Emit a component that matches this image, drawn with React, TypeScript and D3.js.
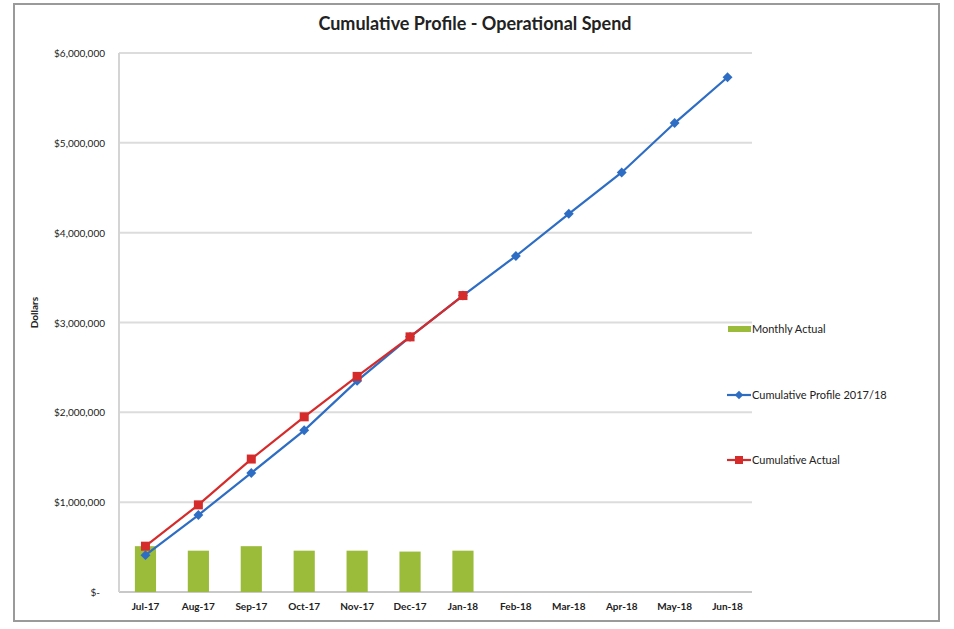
import * as d3 from 'd3';

const months = ['Jul-17', 'Aug-17', 'Sep-17', 'Oct-17', 'Nov-17', 'Dec-17', 'Jan-18', 'Feb-18', 'Mar-18', 'Apr-18', 'May-18', 'Jun-18'];
const monthlyActual = [510000, 460000, 510000, 460000, 460000, 450000, 460000];
const cumulativeProfile = [410000, 857000, 1325000, 1800000, 2350000, 2840000, 3300000, 3740000, 4210000, 4670000, 5220000, 5730000];
const cumulativeActual = [510000, 970000, 1480000, 1950000, 2400000, 2840000, 3300000];
const yTicks = [0, 1000000, 2000000, 3000000, 4000000, 5000000, 6000000];

const W = 954;
const H = 629;
const FONT = 'Lato, "Open Sans", sans-serif';
const GREEN = '#9bbb3b';
const BLUE = '#2e6dc4';
const RED = '#d62b2b';

export default function App() {
  const margin = { top: 53, left: 119, right: 200, bottom: 37 };
  const plotW = 635;
  const plotH = H - margin.top - margin.bottom;

  const x = d3.scaleBand().domain(months).range([margin.left, margin.left + plotW]);
  const y = d3.scaleLinear().domain([0, 6000000]).range([margin.top + plotH, margin.top]);
  const barW = x.bandwidth() * 0.4;
  const cx = (m: string) => (x(m) as number) + x.bandwidth() / 2;

  const line = d3.line<number>()
    .x((_, i) => cx(months[i]))
    .y(d => y(d));

  const fmt = (v: number) => (v === 0 ? '$-' : '$' + d3.format(',')(v));

  return (
    <svg width={W} height={H} style={{ position: 'absolute', left: 0, top: 0, background: '#fff' }}>
      <rect x={0} y={0} width={W} height={H} fill="#fff" />
      {/* chart frame */}
      <rect x={14} y={4} width={925} height={617} fill="none" stroke="#9a9a9a" strokeWidth={2} />

      <text x={475} y={30} textAnchor="middle" fontFamily={FONT} fontWeight="bold" fontSize={18} fill="#222">
        Cumulative Profile - Operational Spend
      </text>

      {/* gridlines */}
      {yTicks.map(t => (
        <line key={t} x1={margin.left} x2={margin.left + plotW - 2} y1={y(t)} y2={y(t)}
          stroke={t === 0 ? '#c8c8c8' : '#dcdcdc'} strokeWidth={2} />
      ))}
      <line x1={margin.left} x2={margin.left} y1={y(6000000)} y2={y(0)} stroke="#d4d4d4" strokeWidth={2} />

      {/* y tick labels */}
      {yTicks.map(t => (
        <text key={'l' + t} x={t === 0 ? 100 : 105} y={y(t) + 4} textAnchor="end" fontFamily={FONT} fontSize={10} fill="#222">
          {fmt(t)}
        </text>
      ))}
      <text transform={`translate(38,${y(3000000) - 10}) rotate(-90)`} textAnchor="middle" fontFamily={FONT}
        fontWeight="bold" fontSize={10} fill="#222">Dollars</text>

      {/* x tick labels */}
      {months.map(m => (
        <text key={m} x={cx(m)} y={y(0) + 18} textAnchor="middle" fontFamily={FONT} fontWeight="bold" fontSize={10} fill="#222">
          {m}
        </text>
      ))}

      {/* bars */}
      {monthlyActual.map((v, i) => (
        <rect key={'b' + i} x={cx(months[i]) - barW / 2} y={y(v)} width={barW} height={y(0) - y(v)} fill={GREEN} />
      ))}

      {/* cumulative profile */}
      <path d={line(cumulativeProfile) as string} fill="none" stroke={BLUE} strokeWidth={2.2} />
      {cumulativeProfile.map((v, i) => (
        <rect key={'p' + i} x={-3.5} y={-3.5} width={7} height={7} fill={BLUE}
          transform={`translate(${cx(months[i])},${y(v)}) rotate(45)`} />
      ))}

      {/* cumulative actual */}
      <path d={line(cumulativeActual) as string} fill="none" stroke={RED} strokeWidth={2.2} />
      {cumulativeActual.map((v, i) => (
        <rect key={'a' + i} x={cx(months[i]) - 4.5} y={y(v) - 4.5} width={9} height={9} fill={RED} />
      ))}

      {/* legend */}
      <g fontFamily={FONT} fontSize={11} fill="#222">
        <rect x={728} y={326} width={23} height={6} fill={GREEN} />
        <text x={752} y={333}>Monthly Actual</text>

        <line x1={727} x2={751} y1={395} y2={395} stroke={BLUE} strokeWidth={2.2} />
        <rect x={-3} y={-3} width={6} height={6} fill={BLUE} transform="translate(739,395) rotate(45)" />
        <text x={752} y={399}>Cumulative Profile 2017/18</text>

        <line x1={727} x2={751} y1={460} y2={460} stroke={RED} strokeWidth={2.2} />
        <rect x={735} y={456} width={8} height={8} fill={RED} />
        <text x={752} y={464}>Cumulative Actual</text>
      </g>
    </svg>
  );
}
